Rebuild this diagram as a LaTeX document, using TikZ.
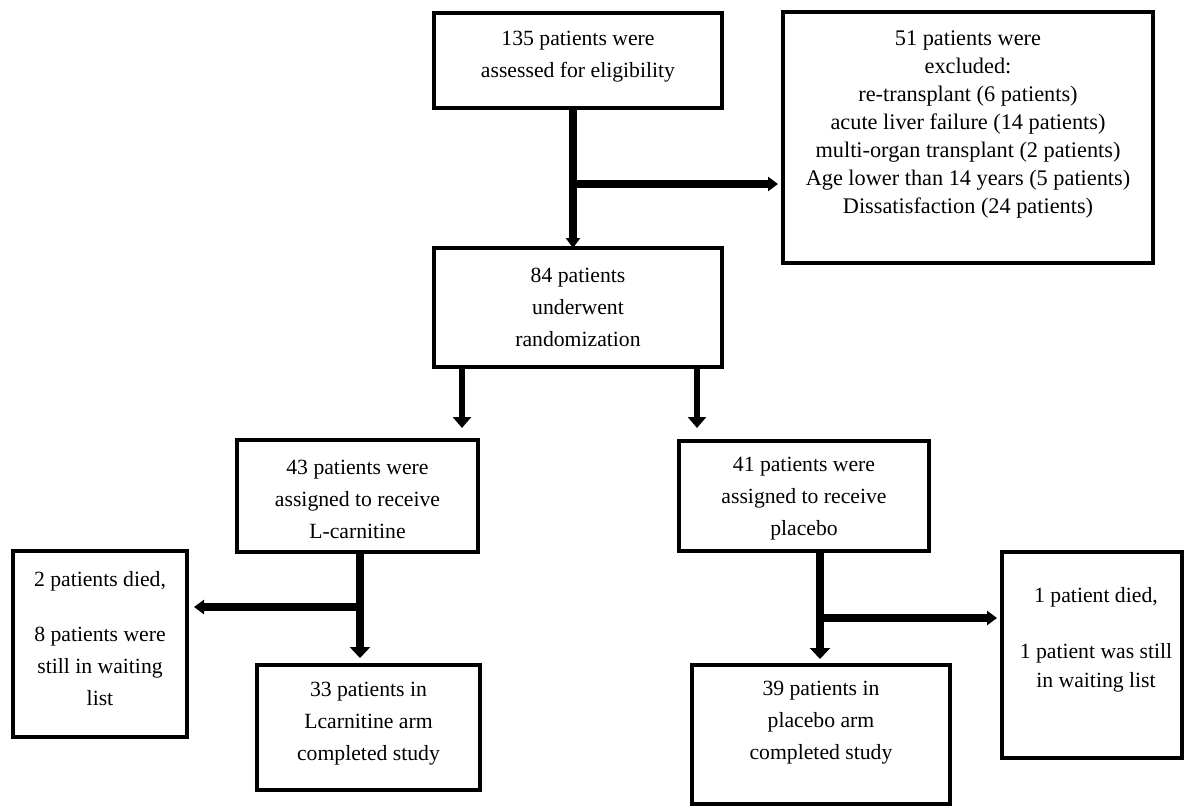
\documentclass[tikz,border=0pt]{standalone}
\usepackage{fontspec}
\setmainfont{Liberation Serif}
\usetikzlibrary{arrows.meta,calc}
\begin{document}
\begin{tikzpicture}[x=1pt,y=-1pt,
  box/.style={draw,line width=3.5pt,inner sep=0pt,outer sep=0pt},
  txt/.style={align=center,font=\fontsize{21.7}{32}\selectfont,inner sep=0pt},
  txtx/.style={align=center,font=\fontsize{22.3}{28}\selectfont,inner sep=0pt},
  txtr/.style={align=center,font=\fontsize{21.7}{29}\selectfont,inner sep=0pt},
  conn/.style={line width=8pt,-{Triangle[width=14pt,length=10pt]}},
  connb/.style={line width=6pt,-{Triangle[width=18pt,length=11pt]}},
  connc/.style={line width=7.5pt,-{Triangle[width=20pt,length=11pt]}}]
\path[fill=white,use as bounding box] (0,0) rectangle (1187,809);

\node[box,minimum width=288pt,minimum height=95pt,
  label={[txt,yshift=4pt]center:{135 patients were\\assessed for eligibility}}] (top) at (578,60.5) {};
\node[box,minimum width=370pt,minimum height=251pt,
  label={[txtx,yshift=13pt]center:{51 patients were\\excluded:\\re-transplant (6 patients)\\acute liver failure (14 patients)\\multi-organ transplant (2 patients)\\Age lower than 14 years (5 patients)\\Dissatisfaction (24 patients)}}] (ex) at (968,137.5) {};
\node[box,minimum width=288pt,minimum height=119pt,
  label={[txt]center:{84 patients\\underwent\\randomization}}] (rnd) at (578,307.5) {};
\node[box,minimum width=241pt,minimum height=112pt,
  label={[txt,yshift=-3pt]center:{43 patients were\\assigned to receive\\L-carnitine}}] (lc) at (357.5,496) {};
\node[box,minimum width=250pt,minimum height=110pt,
  label={[txt,yshift=-3pt]center:{41 patients were\\assigned to receive\\placebo}}] (pl) at (804,496) {};
\node[box,minimum width=174pt,minimum height=186pt,
  label={[txt,yshift=5pt]center:{2 patients died,\\[23pt]8 patients were\\still in waiting\\list}}] (ld) at (100,644) {};
\node[box,minimum width=223pt,minimum height=125pt,
  label={[txt,yshift=4pt]center:{33 patients in\\Lcarnitine arm\\completed study}}] (lcd) at (368.5,727.5) {};
\node[box,minimum width=258pt,minimum height=139pt,
  label={[txt,yshift=12pt]center:{39 patients in\\placebo arm\\completed study}}] (pld) at (821,734.5) {};
\node[box,minimum width=180pt,minimum height=206pt,
  label={[txtr,yshift=15pt,xshift=4pt]center:{1 patient died,\\[27pt]1 patient was still\\in waiting list}}] (rd) at (1092,655) {};

% top to randomization, with exclusion branch
\coordinate (v1) at (573,0);
\coordinate (b1) at (573,184);
\draw[conn] (top.south -| v1) -- (rnd.north -| v1);
\draw[conn,shorten >=5pt] (b1) -- (b1 -| ex.west);

% randomization to arms
\coordinate (v2) at (462,0);
\coordinate (v3) at (697,0);
\draw[connb,shorten >=12pt] (rnd.south -| v2) -- (lc.north -| v2);
\draw[connb,shorten >=13pt] (rnd.south -| v3) -- (pl.north -| v3);

% L-carnitine arm
\coordinate (v4) at (360,0);
\coordinate (b2) at (360,607);
\draw[connc,shorten >=7pt] (lc.south -| v4) -- (lcd.north -| v4);
\draw[conn,shorten >=7pt] (b2) -- (b2 -| ld.east);

% placebo arm
\coordinate (v5) at (820,0);
\coordinate (b3) at (820,618);
\draw[connc,shorten >=6pt] (pl.south -| v5) -- (pld.north -| v5);
\draw[conn,shorten >=5pt] (b3) -- (b3 -| rd.west);
\end{tikzpicture}
\end{document}
